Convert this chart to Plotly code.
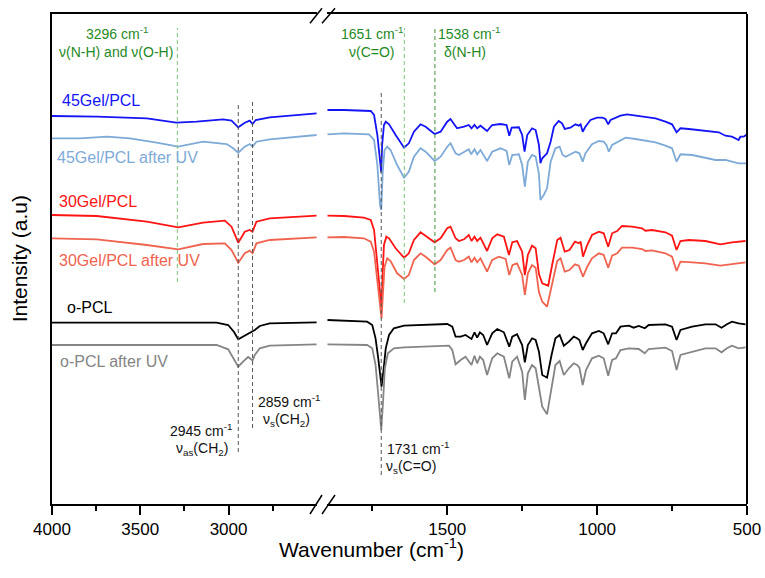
import plotly.graph_objects as go

# ---------------- data (wavenumber in cm-1, intensity in a.u., offset as plotted) -------------
gel45_wn = [4000, 3746, 3463, 3296, 3181, 3031, 2983, 2945, 2908, 2880, 2864, 2846, 2767, 2616, 2500,
            1900, 1844, 1755, 1744, 1733, 1724, 1720, 1717, 1711, 1705, 1694, 1672, 1644, 1628, 1611,
            1589, 1572, 1542, 1522, 1500, 1489, 1475, 1467, 1444, 1428, 1419, 1409, 1400, 1389, 1367,
            1350, 1322, 1302, 1293, 1285, 1261, 1250, 1242, 1233, 1217, 1205, 1194, 1189, 1183, 1167,
            1155, 1144, 1128, 1117, 1108, 1089, 1072, 1061, 1055, 1048, 1039, 1022, 1000, 983, 972,
            963, 955, 944, 922, 900, 872, 839, 805, 772, 750, 735, 722, 694, 661, 628, 594, 572, 550,
            528, 522, 511, 500]
gel45_int = [388, 387.3, 385.7, 381.3, 382.3, 384.7, 383.3, 376.7, 381.3, 383.3, 380, 384, 386.7, 389, 390.7,
             394, 394, 393, 389, 369, 342.3, 331.7, 359, 379, 382.3, 379.7, 369, 356.3, 360.7, 372.3,
             379.7, 377.3, 370, 372.3, 382.3, 385, 379, 375.7, 377.3, 379, 375.7, 379, 375.7, 378.3, 373,
             379, 380, 379, 368.3, 376.3, 376.7, 369, 352.3, 369, 375.7, 374, 359, 340.7, 345.7, 350.7,
             362.3, 377.3, 383, 380.7, 375, 376.3, 379.7, 378.3, 379.7, 372.3, 377.3, 384, 386.3, 386.3, 385,
             379.7, 384, 385.7, 388.3, 389.7, 388.3, 387.3, 385.7, 382.3, 379.7, 371.7, 375.7, 375, 374, 372.3,
             371.7, 368.3, 367.3, 364, 367.3, 367.3, 369.7]

gel45uv_wn = [4000, 3840, 3689, 3558, 3407, 3285, 3144, 3011, 2974, 2945, 2908, 2880, 2864, 2842, 2767, 2616, 2500,
              1900, 1844, 1761, 1744, 1733, 1724, 1720, 1715, 1709, 1700, 1689, 1667, 1644, 1628, 1611, 1589,
              1572, 1542, 1522, 1500, 1489, 1472, 1461, 1444, 1428, 1420, 1409, 1400, 1389, 1367, 1350, 1322,
              1302, 1293, 1283, 1261, 1250, 1241, 1231, 1217, 1205, 1194, 1189, 1178, 1167, 1155, 1139, 1125,
              1115, 1105, 1089, 1072, 1059, 1048, 1039, 1017, 994, 978, 969, 961, 950, 928, 905, 872, 839,
              805, 772, 750, 735, 722, 683, 639, 605, 572, 550, 528, 500]
gel45uv_int = [365.7, 365.7, 367.3, 365.7, 361.3, 357.3, 362.3, 360, 355.7, 351.3, 357.3, 360, 357.3, 362.3, 364.7, 367.3, 369,
               369.7, 370.7, 369.7, 364, 339, 299, 294, 332.3, 354, 357.3, 354, 339, 326.3, 332.3, 347.3, 355.7,
               352.3, 343, 347.3, 357.3, 360.7, 350.7, 349, 352.3, 354.7, 349.7, 354.7, 349.7, 354, 343, 352.3, 355.7,
               353, 339, 349, 349.7, 339, 317.3, 342.3, 349, 347.3, 330, 304, 309, 315.7, 342.3, 355.7, 357.3,
               349, 347.3, 349.7, 352.3, 350.7, 342.3, 350.7, 359.7, 363, 362.3, 359, 352.3, 359, 363, 366.3, 365, 363,
               361.7, 358.3, 355.7, 342.3, 349.7, 349, 346.3, 344, 344, 342.3, 340.7, 340.7]

gel30_wn = [4000, 3746, 3463, 3285, 3144, 3021, 2983, 2945, 2908, 2880, 2864, 2842, 2767, 2616, 2500,
            1900, 1844, 1778, 1755, 1744, 1733, 1722, 1719, 1715, 1711, 1703, 1694, 1672, 1644, 1628,
            1611, 1589, 1572, 1542, 1522, 1500, 1489, 1472, 1461, 1444, 1428, 1419, 1409, 1400, 1389,
            1367, 1350, 1333, 1311, 1294, 1283, 1267, 1250, 1241, 1231, 1217, 1205, 1194, 1183, 1163,
            1150, 1133, 1122, 1108, 1092, 1074, 1061, 1055, 1047, 1033, 1017, 994, 978, 963, 950,
            933, 917, 883, 850, 839, 817, 772, 750, 735, 722, 694, 639, 589, 550, 505]
gel30_int = [289, 288, 282.3, 276.7, 281.3, 283.3, 277.3, 261.3, 272.3, 274, 272.3, 282.3, 285.7, 287.3, 288.3,
             288.3, 288, 286.3, 284, 274, 239, 202.3, 196, 232.3, 259, 267.3, 265.7, 255.7, 246.3, 250.7,
             264, 271.7, 268.3, 261.7, 265.7, 275.7, 277.3, 265.7, 263, 264.7, 269, 263, 267.3, 263, 266.3,
             253, 265.7, 269.7, 267.3, 249, 261.7, 263, 252.3, 229, 249, 258.3, 255.7, 230, 220.7, 218.3,
             239, 264, 266.3, 252.3, 254, 262.3, 260.7, 262.3, 247.3, 259, 269, 272.3, 270.7, 257.3, 270.7,
             273, 278, 277.3, 275.7, 273.3, 274, 271.7, 268.3, 254, 263, 264, 263, 259.7, 261.7, 263]

gel30uv_wn = [4000, 3746, 3463, 3285, 3144, 3021, 2983, 2945, 2908, 2880, 2864, 2842, 2767, 2616, 2500,
              1900, 1844, 1778, 1755, 1744, 1733, 1722, 1719, 1714, 1709, 1700, 1689, 1667, 1644, 1628,
              1611, 1589, 1572, 1542, 1522, 1500, 1489, 1472, 1461, 1444, 1428, 1419, 1409, 1400, 1389,
              1367, 1350, 1328, 1305, 1293, 1282, 1267, 1250, 1241, 1231, 1217, 1205, 1194, 1183, 1167,
              1150, 1133, 1122, 1108, 1092, 1074, 1061, 1047, 1033, 1017, 994, 978, 963, 950, 933,
              917, 883, 850, 839, 817, 772, 750, 735, 722, 683, 639, 589, 550, 505]
gel30uv_int = [265.7, 264.7, 259, 254.7, 260, 260.7, 254, 241.3, 250.7, 253.3, 250.7, 260.7, 264, 265.7, 266.7,
               266.7, 267, 265.7, 262.3, 252.3, 222.3, 189, 185.7, 212.3, 237.3, 245.7, 243, 230.7, 225, 229,
               244, 250.7, 247.3, 239.7, 244, 254, 256.3, 244, 242.3, 244, 247.3, 241.7, 246.3, 241.7, 245.7,
               232.3, 244, 247.3, 245, 229, 239, 240.7, 229, 209, 230.7, 239, 236.3, 212, 202.3, 197.3,
               219, 243, 245.7, 232.3, 234, 239.7, 238.3, 227.3, 237.3, 245.7, 250.7, 249, 236.3, 248.3, 250.7,
               256.3, 256.3, 255, 253, 253.7, 250.7, 247.3, 233, 242.3, 241.7, 240.7, 238.3, 239.7, 241.7]

pcl_wn = [4000, 3558, 3068, 3002, 2970, 2945, 2918, 2889, 2864, 2851, 2823, 2767, 2500,
          1900, 1844, 1767, 1750, 1739, 1730, 1722, 1719, 1713, 1705, 1694, 1678, 1644, 1578, 1500,
          1483, 1472, 1455, 1439, 1419, 1409, 1400, 1391, 1380, 1367, 1350, 1333, 1311, 1293, 1283,
          1267, 1250, 1241, 1231, 1217, 1205, 1194, 1183, 1167, 1152, 1139, 1125, 1111, 1094, 1078,
          1067, 1059, 1048, 1037, 1017, 994, 978, 963, 950, 937, 922, 894, 878, 861, 841,
          828, 772, 750, 735, 722, 683, 639, 605, 585, 567, 550, 528, 505]
pcl_int = [181.3, 181.3, 181.3, 179, 172.3, 164.7, 167.3, 170, 172.3, 174, 178, 180.7, 181.7,
           184, 183.3, 182.3, 179, 165.7, 145.7, 122.3, 117.3, 132.3, 155.7, 169, 175.7, 178.3, 179, 180,
           177.3, 167.3, 167.3, 169, 165, 171.7, 166.3, 171.7, 169, 159, 170.7, 175, 171.7, 157.3, 167.3,
           169.7, 159, 141.7, 159, 165.7, 164, 152.3, 129, 126.3, 149, 165.7, 169, 158.3, 162.3, 167.3,
           165.7, 164, 154, 160.7, 170.7, 173, 170.7, 159.7, 170.7, 170.7, 177.3, 178.3, 176.3, 178, 175.7,
           179, 179.7, 177.3, 164, 174, 177.3, 179.7, 179.7, 176.3, 179.7, 182.3, 180.7, 179.7]

pcluv_wn = [4000, 3558, 3068, 3002, 2970, 2945, 2918, 2889, 2864, 2851, 2823, 2767, 2500,
            1900, 1844, 1767, 1750, 1739, 1730, 1722, 1720, 1714, 1708, 1698, 1678, 1644, 1578, 1494,
            1483, 1472, 1455, 1439, 1419, 1409, 1400, 1391, 1380, 1367, 1350, 1333, 1311, 1293, 1283,
            1267, 1250, 1241, 1231, 1217, 1205, 1194, 1183, 1167, 1152, 1139, 1125, 1111, 1094, 1078,
            1067, 1059, 1048, 1037, 1017, 994, 978, 963, 950, 937, 922, 894, 861, 841, 828,
            772, 750, 735, 722, 683, 639, 605, 585, 567, 550, 528, 505]
pcluv_int = [159, 159, 159, 154.7, 145.7, 137.3, 142.3, 147, 143.5, 149, 155.7, 158.3, 159.7,
             159.7, 159.7, 159, 155.7, 139, 109, 82.3, 74, 102.3, 135.7, 150.7, 155.7, 156.7, 157.3, 158.3,
             154, 139.7, 144, 147.3, 139, 148.3, 140.7, 147.3, 144, 129, 145.7, 150.7, 147.3, 125.7, 142.3,
             147.3, 132.3, 104, 130.7, 139, 135.7, 116, 97.3, 89.7, 115.7, 139, 143, 129, 135.7, 140.7,
             139, 136.3, 119, 134, 145.7, 148.3, 145.7, 128.3, 144, 145.7, 154, 155.7, 155, 150.7, 155,
             156.3, 153, 134, 149, 152.3, 155.7, 155.7, 151.7, 155.7, 158.3, 155.7, 156.7]

series_names = ["45Gel/PCL", "45Gel/PCL after UV", "30Gel/PCL", "30Gel/PCL after UV", "o-PCL", "o-PCL after UV"]
series_wn = [gel45_wn, gel45uv_wn, gel30_wn, gel30uv_wn, pcl_wn, pcluv_wn]
series_int = [gel45_int, gel45uv_int, gel30_int, gel30uv_int, pcl_int, pcluv_int]
series_colors = ["#1414f5", "#7eaad8", "#ff1414", "#f0634f", "#000000", "#858585"]

# label anchor (wavenumber at left edge, intensity)
label_wn = [3953, 3981, 3970, 3970, 3925, 3964]
label_int = [404, 347, 303, 244, 197, 143]

# band markers (positions as drawn) and annotation text
green_lines = [(3290, "x", 222, 476, "#7cc47c"), (1643, "x2", 201, 476, "#7cc47c"), (1541, "x2", 212, 477, "#3a913a")]
grey_lines = [(2945, "x", 52, 402), (2864, "x", 76, 402), (1720, "x2", 29, 414)]

fig = go.Figure()
FONT = "Liberation Sans, Arial, sans-serif"

for name, wn, it, col in zip(series_names, series_wn, series_int, series_colors):
    lw = [w for w in wn if w >= 2400]
    li = [v for w, v in zip(wn, it) if w >= 2400]
    rw = [w for w in wn if w <= 2000]
    ri = [v for w, v in zip(wn, it) if w <= 2000]
    fig.add_trace(go.Scatter(x=lw, y=li, xaxis="x", yaxis="y", mode="lines", name=name,
                             line=dict(color=col, width=1.8), showlegend=False))
    fig.add_trace(go.Scatter(x=rw, y=ri, xaxis="x2", yaxis="y", mode="lines", name=name,
                             line=dict(color=col, width=1.8), showlegend=False))

shapes = []
for x, xr, y0, y1, c in green_lines:
    shapes.append(dict(type="line", xref=xr, yref="y", x0=x, x1=x, y0=y0, y1=y1,
                       line=dict(color=c, width=1, dash="4px,3px")))
for x, xr, y0, y1 in grey_lines:
    shapes.append(dict(type="line", xref=xr, yref="y", x0=x, x1=x, y0=y0, y1=y1,
                       line=dict(color="#555555", width=1, dash="4px,3px")))
# right frame
shapes.append(dict(type="line", xref="paper", yref="paper", x0=1, x1=1, y0=0, y1=1,
                   line=dict(color="black", width=2)))
# axis-break marks
for yb, yt in [(-0.0204, 0.0184), (0.981, 1.0116)]:
    for xa, xb in [(0.3712, 0.3885), (0.3885, 0.4072)]:
        shapes.append(dict(type="line", xref="paper", yref="paper", x0=xa, x1=xb, y0=yb, y1=yt,
                           line=dict(color="black", width=1.5)))

ann = []
for name, w, v, col in zip(series_names, label_wn, label_int, series_colors):
    ann.append(dict(x=w, y=v, xref="x", yref="y", text=name, showarrow=False, xanchor="left",
                    yanchor="middle", font=dict(family=FONT, size=16, color=col)))

G = "#1f8a1f"
txt = [
    ("3296 cm<sup>-1</sup>", 3631, 471, "x", "center", G),
    ("ν(N-H) and ν(O-H)", 3636, 452, "x", "center", G),
    ("1651 cm<sup>-1</sup>", 1751, 471, "x2", "center", G),
    ("ν(C=O)", 1752, 452, "x2", "center", G),
    ("1538 cm<sup>-1</sup>", 1428, 471, "x2", "center", G),
    ("δ(N-H)", 1441, 452, "x2", "center", G),
    ("2859 cm<sup>-1</sup>", 2659, 103, "x", "center", "#111111"),
    ("ν<sub>s</sub>(CH<sub>2</sub>)", 2671, 84, "x", "center", "#111111"),
    ("2945 cm<sup>-1</sup>", 3154, 74, "x", "center", "#111111"),
    ("ν<sub>as</sub>(CH<sub>2</sub>)", 3151, 55, "x", "center", "#111111"),
    ("1731 cm<sup>-1</sup>", 1706, 56, "x2", "left", "#111111"),
    ("ν<sub>s</sub>(C=O)", 1712, 37, "x2", "left", "#111111"),
]
for t, x, y, xr, xa, c in txt:
    ann.append(dict(x=x, y=y, xref=xr, yref="y", text=t, showarrow=False, xanchor=xa,
                    yanchor="middle", font=dict(family=FONT, size=14, color=c)))

ann.append(dict(x=0.459, y=-0.09, xref="paper", yref="paper", text="Wavenumber (cm<sup>-1</sup>)",
                showarrow=False, xanchor="center", yanchor="middle", font=dict(family=FONT, size=21, color="black")))
ann.append(dict(x=-0.047, y=0.5, xref="paper", yref="paper", text="Intensity (a.u)", textangle=-90,
                showarrow=False, xanchor="center", yanchor="middle", font=dict(family=FONT, size=21, color="black")))

axis_common = dict(showline=True, linecolor="black", linewidth=2, mirror=True, ticks="outside",
                   ticklen=9, tickwidth=1.5, tickcolor="black", showgrid=False, zeroline=False,
                   automargin=False,
                   tickfont=dict(family=FONT, size=17, color="black"),
                   minor=dict(ticks="outside", ticklen=5, tickwidth=1.5, tickcolor="black", dtick=250, tick0=0))

fig.update_layout(
    width=765, height=578,
    margin=dict(l=52, r=18, t=14, b=74, autoexpand=False),
    paper_bgcolor="white", plot_bgcolor="white",
    xaxis=dict(domain=[0, 0.3809], range=[4000, 2500.5], anchor="y", tick0=0, dtick=500, **axis_common),
    xaxis2=dict(domain=[0.3961, 1], range=[1900, 500], anchor="y", tick0=0, dtick=500, **axis_common),
    yaxis=dict(range=[0, 490], showline=True, linecolor="black", linewidth=2, showticklabels=False,
               ticks="", showgrid=False, zeroline=False, anchor="x", automargin=False),
    shapes=shapes, annotations=ann,
)

# remove the browser's default body margin so the figure sits at the page origin
fig.write_html("out.html", config={"displayModeBar": False},
               post_script="document.body.style.margin='0px';document.body.style.overflow='hidden';")
